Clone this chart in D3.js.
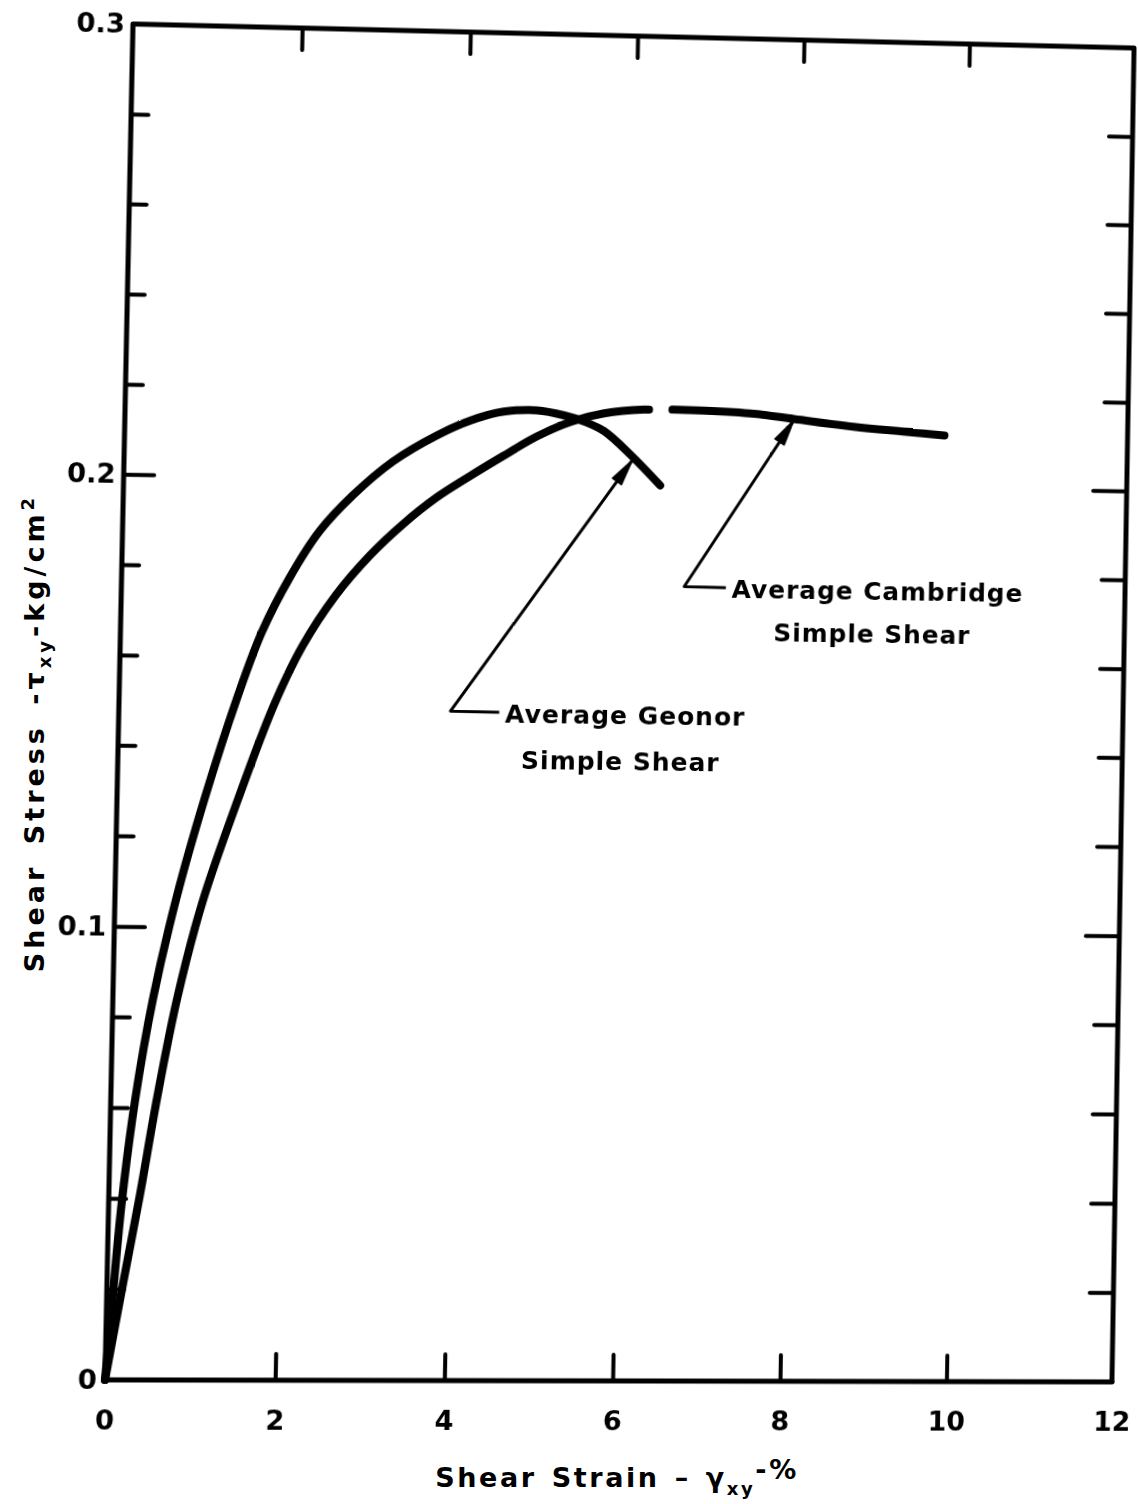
<!DOCTYPE html>
<html>
<head>
<meta charset="utf-8">
<script src="https://cdn.jsdelivr.net/npm/d3@7"></script>
<style>
  html, body { margin: 0; padding: 0; background: #fff; }
  body { position: relative; width: 1138px; height: 1504px; overflow: hidden; }
  svg { display: block; overflow: visible; }
  #titles { position: absolute; left: 0; top: 0; }
  #plotwrap { position: absolute; left: 0; top: 0; transform-origin: 0 0; }
  text { font-family: "DejaVu Sans", sans-serif; font-weight: bold; fill: #000; }
</style>
</head>
<body>
<svg id="titles" width="1138" height="1504"></svg>
<svg id="plotwrap"></svg>
<script>
// ---------------- data ----------------
const xTickValues = [0, 2, 4, 6, 8, 10, 12];
const xTickLabels = ["0", "2", "4", "6", "8", "10", "12"];
const yTickValues = [0, 0.1, 0.2, 0.3];
const yTickLabels = ["0", "0.1", "0.2", "0.3"];
const yMinorTicks = [0.02, 0.04, 0.06, 0.08, 0.12, 0.14, 0.16, 0.18, 0.22, 0.24, 0.26, 0.28];

// Average Geonor simple shear (strain %, stress kg/cm2)
const geonorStrain = [0, 0.068, 0.157, 0.288, 0.472, 0.722, 1.032, 1.390, 1.667, 1.978, 2.326, 2.712, 3.182, 3.691, 4.094, 4.487, 4.881, 5.206, 5.446, 5.688, 6.028, 6.370];
const geonorStress = [0, 0.0177, 0.0398, 0.0620, 0.0841, 0.1063, 0.1285, 0.1508, 0.1655, 0.1775, 0.1881, 0.1962, 0.2039, 0.2098, 0.2133, 0.2154, 0.2158, 0.2148, 0.2135, 0.2114, 0.2059, 0.1995];

// Average Cambridge simple shear (null = break in the drawn line)
const cambStrain = [0, 0.191, 0.363, 0.542, 0.756, 1.030, 1.424, 1.828, 2.150, 2.532, 2.929, 3.316, 3.705, 4.107, 4.497, 4.887, 5.291, 5.684, 6.161, 6.22, null, 6.50, 6.879, 7.478, 7.958, 8.677, 9.277, 9.780];
const cambStress = [0, 0.0215, 0.0405, 0.0620, 0.0842, 0.1055, 0.1283, 0.1494, 0.1625, 0.1739, 0.1829, 0.1900, 0.1960, 0.2010, 0.2056, 0.2100, 0.2134, 0.2154, 0.2164, 0.2164, null, 0.2165, 0.2164, 0.2159, 0.2149, 0.2134, 0.2125, 0.2118];

// annotation leaders: [tail end, corner, arrow tip] in data units
const geonorLeaderX = [4.50, 3.92, 6.03];
const geonorLeaderY = [0.1484, 0.1485, 0.2050];
const cambLeaderX = [7.18, 6.68, 7.96];
const cambLeaderY = [0.1769, 0.1770, 0.2146];
const geonorLabel = ["Average Geonor", "Simple Shear"];
const cambLabel = ["Average Cambridge", "Simple Shear"];
const geonorLabelX = [4.57, 4.77];
const geonorLabelY = [0.1484, 0.1382];
const cambLabelX = [7.25, 7.76];
const cambLabelY = [0.1769, 0.1675];

// ---------------- layout ----------------
const W = 1004, H = 1345, M = 120;
// corners of the (slightly distorted) scanned frame: TL, TR, BR, BL
const quad = [[133, 24], [1134, 48], [1112, 1382], [105, 1380]];

function squareToQuad(q) {
  const [x0, y0] = q[0], [x1, y1] = q[1], [x2, y2] = q[2], [x3, y3] = q[3];
  const dx1 = x1 - x2, dx2 = x3 - x2, dx3 = x0 - x1 + x2 - x3;
  const dy1 = y1 - y2, dy2 = y3 - y2, dy3 = y0 - y1 + y2 - y3;
  const den = dx1 * dy2 - dx2 * dy1;
  const g = (dx3 * dy2 - dx2 * dy3) / den;
  const h = (dx1 * dy3 - dx3 * dy1) / den;
  return { a: x1 - x0 + g * x1, b: x3 - x0 + h * x3, c: x0,
           d: y1 - y0 + g * y1, e: y3 - y0 + h * y3, f: y0, g, h };
}
const P = squareToQuad(quad);
const m3 = [
  P.a / W, P.d / W, 0, P.g / W,
  P.b / H, P.e / H, 0, P.h / H,
  0, 0, 1, 0,
  -P.a * M / W - P.b * M / H + P.c, -P.d * M / W - P.e * M / H + P.f, 0, -P.g * M / W - P.h * M / H + 1
];

const wrap = d3.select("#plotwrap")
  .attr("width", W + 2 * M).attr("height", H + 2 * M)
  .style("transform", `matrix3d(${m3.join(",")})`);
const plot = wrap.append("g").attr("transform", `translate(${M},${M})`);

const x = d3.scaleLinear().domain([0, 12]).range([0, W]);
const y = d3.scaleLinear().domain([0, 0.3]).range([H, 0]);

// frame
plot.append("rect")
  .attr("x", x(0)).attr("y", y(0.3))
  .attr("width", x(12) - x(0)).attr("height", y(0) - y(0.3))
  .attr("fill", "none").attr("stroke", "#000").attr("stroke-width", 5)
  .attr("stroke-linejoin", "round");

function styleAxis(g) {
  g.select(".domain").remove();
  g.selectAll(".tick line").attr("stroke", "#000").attr("stroke-width", 4).attr("stroke-linecap", "round");
  g.selectAll(".tick text").style("font-size", "27px").style("font-family", "DejaVu Sans, sans-serif").style("font-weight", "bold");
}

// bottom ticks (inward) + labels
plot.append("g").attr("transform", `translate(0,${H})`)
  .call(d3.axisBottom(x).tickValues(xTickValues.slice(1, -1)).tickSizeInner(-26).tickSizeOuter(0).tickFormat(""))
  .call(styleAxis);
plot.append("g").attr("transform", `translate(0,${H})`)
  .call(d3.axisBottom(x).tickValues(xTickValues).tickSize(0).tickPadding(30)
        .tickFormat((d, i) => xTickLabels[i]))
  .call(styleAxis);
// top ticks (inward)
plot.append("g")
  .call(d3.axisTop(x).tickValues(xTickValues.slice(1, -1)).tickSizeInner(-22).tickSizeOuter(0).tickFormat(""))
  .call(styleAxis);

// left axis: labelled major ticks + minor ticks
plot.append("g")
  .call(d3.axisLeft(y).tickValues(yTickValues).tickSizeInner(-30).tickSizeOuter(0).tickPadding(8)
        .tickFormat((d, i) => yTickLabels[i]))
  .call(styleAxis);
plot.append("g")
  .call(d3.axisLeft(y).tickValues(yMinorTicks).tickSizeInner(-17).tickSizeOuter(0).tickFormat(""))
  .call(styleAxis);
// right axis ticks (inward)
plot.append("g").attr("transform", `translate(${W},0)`)
  .call(d3.axisRight(y).tickValues([0.1, 0.2]).tickSizeInner(-34).tickSizeOuter(0).tickFormat(""))
  .call(styleAxis);
plot.append("g").attr("transform", `translate(${W},0)`)
  .call(d3.axisRight(y).tickValues(yMinorTicks).tickSizeInner(-24).tickSizeOuter(0).tickFormat(""))
  .call(styleAxis);
plot.selectAll(".tick").filter(d => d === 0 || d === 0.3).select("line").remove();

// curves
const line = d3.line()
  .defined(d => d[0] !== null)
  .x(d => x(d[0])).y(d => y(d[1]))
  .curve(d3.curveCatmullRom.alpha(0.5));

const geonor = geonorStrain.map((s, i) => [s, geonorStress[i]]);
const camb = cambStrain.map((s, i) => [s, cambStress[i]]);

[geonor, camb].forEach(data => {
  plot.append("path").datum(data)
    .attr("d", line)
    .attr("fill", "none").attr("stroke", "#000")
    .attr("stroke-width", 8).attr("stroke-linecap", "round").attr("stroke-linejoin", "round");
});

// leaders with arrowheads
function leader(xs, ys) {
  const pts = xs.map((v, i) => [x(v), y(ys[i])]);
  plot.append("path")
    .attr("d", d3.line()(pts))
    .attr("fill", "none").attr("stroke", "#000").attr("stroke-width", 3)
    .attr("stroke-linejoin", "round");
  const tip = pts[2], from = pts[1];
  const ang = Math.atan2(tip[1] - from[1], tip[0] - from[0]);
  const L = 26, Wd = 5.5;
  const bx = tip[0] - L * Math.cos(ang), by = tip[1] - L * Math.sin(ang);
  const px = -Math.sin(ang) * Wd, py = Math.cos(ang) * Wd;
  plot.append("path")
    .attr("d", `M${tip[0]},${tip[1]}L${bx + px},${by + py}L${bx - px},${by - py}Z`)
    .attr("fill", "#000").attr("stroke", "#000").attr("stroke-width", 1.5).attr("stroke-linejoin", "round");
}
leader(geonorLeaderX, geonorLeaderY);
leader(cambLeaderX, cambLeaderY);

function label(lines, xs, ys) {
  lines.forEach((t, i) => {
    plot.append("text")
      .attr("x", x(xs[i])).attr("y", y(ys[i]))
      .attr("dy", "0.42em")
      .style("font-size", "25px").style("letter-spacing", "1px")
      .text(t);
  });
}
label(geonorLabel, geonorLabelX, geonorLabelY);
label(cambLabel, cambLabelX, cambLabelY);

// axis titles
const titles = d3.select("#titles");
const xt = titles.append("text")
  .attr("x", 617).attr("y", 1487).attr("text-anchor", "middle")
  .style("font-size", "27px").style("letter-spacing", "2.6px").style("word-spacing", "3px");
xt.append("tspan").text("Shear Strain – ");
xt.append("tspan").text("γ");
xt.append("tspan").attr("dy", 8).style("font-size", "18px").text("xy");
xt.append("tspan").attr("dy", -16).text("-%");

const yt = titles.append("text")
  .attr("transform", "translate(44,733) rotate(-90)")
  .attr("text-anchor", "middle")
  .style("font-size", "27px").style("letter-spacing", "4px").style("word-spacing", "6px");
yt.append("tspan").text("Shear Stress -");
yt.append("tspan").text("τ");
yt.append("tspan").attr("dy", 7).style("font-size", "18px").text("xy");
yt.append("tspan").attr("dy", -7).text("-kg/cm");
yt.append("tspan").attr("dy", -10).style("font-size", "18px").text("2");
</script>
</body>
</html>
